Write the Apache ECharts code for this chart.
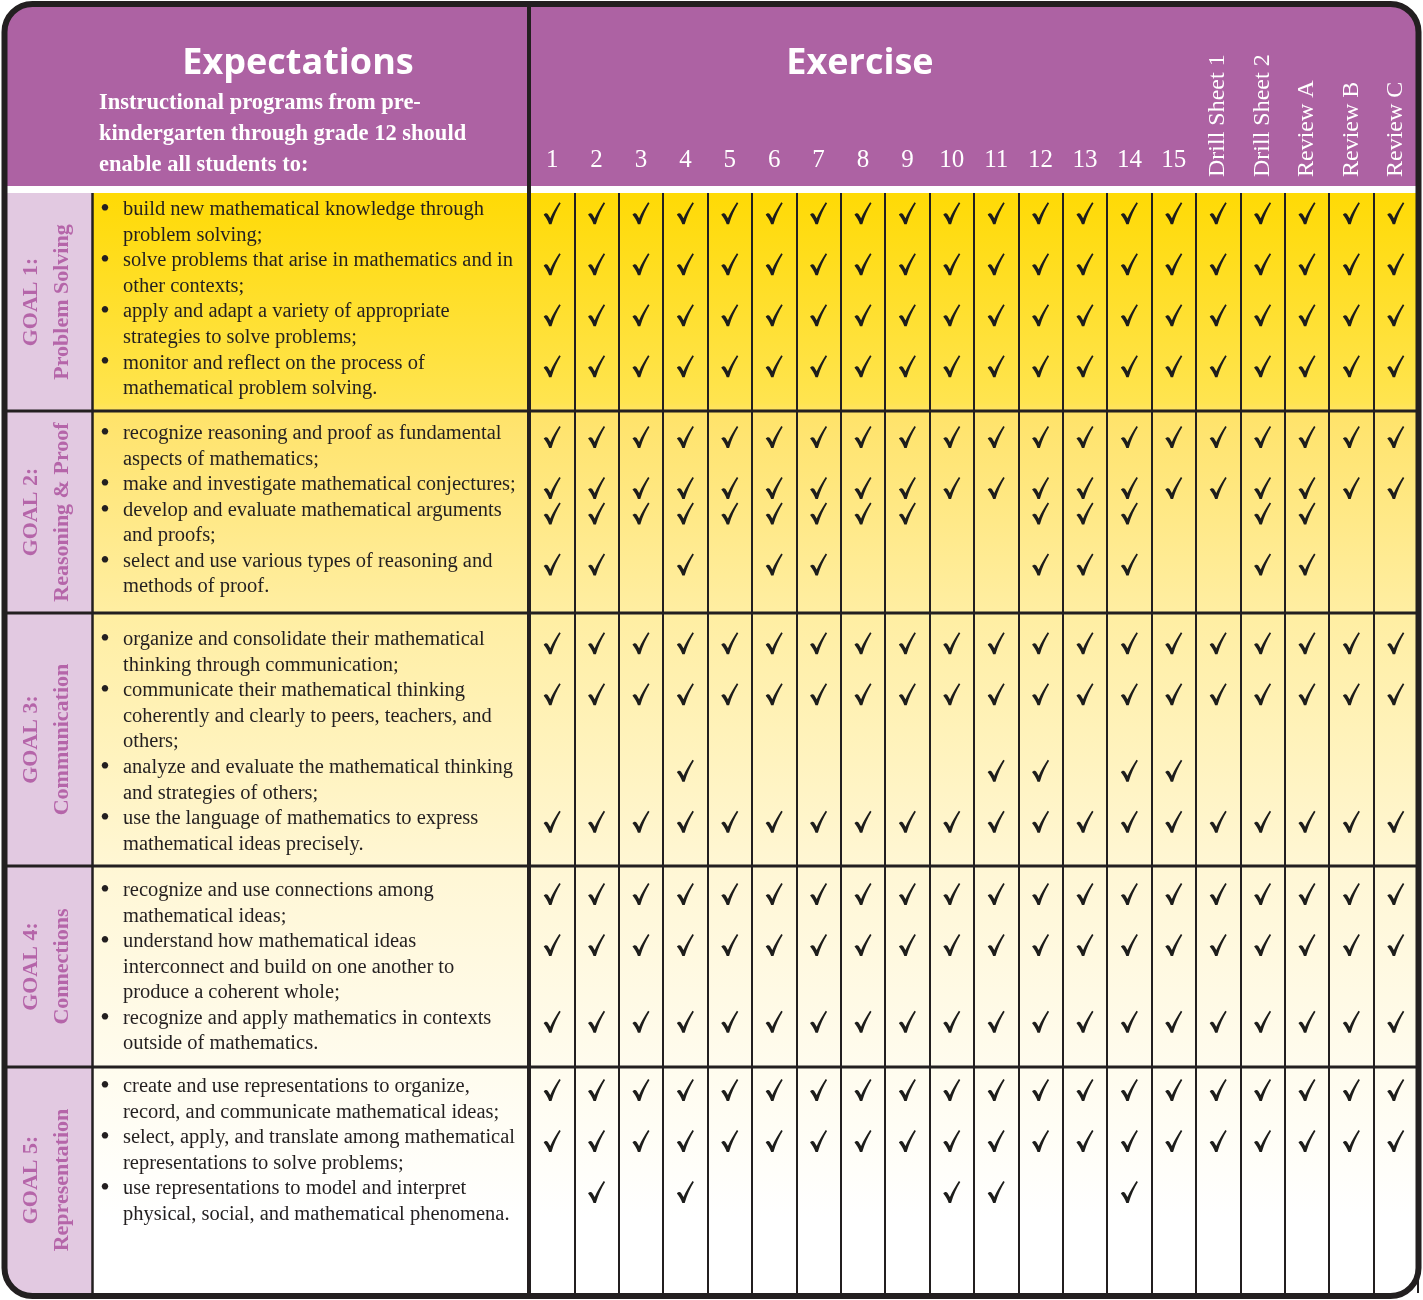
<!DOCTYPE html>
<html><head><meta charset="utf-8">
<script src="https://cdn.jsdelivr.net/npm/echarts@6/dist/echarts.min.js"></script>
<style>html,body{margin:0;padding:0;background:#fff}#c{width:1423px;height:1300px}</style>
</head><body><div id="c"></div>
<script>
// ---------------- DATA ----------------
const exerciseColumns = ['1','2','3','4','5','6','7','8','9','10','11','12','13','14','15',
  'Drill Sheet 1','Drill Sheet 2','Review A','Review B','Review C'];

const headerLeftTitle = 'Expectations';
const headerLeftSubtitle = ['Instructional programs from pre-', 'kindergarten through grade 12 should', 'enable all students to:'];
const headerRightTitle = 'Exercise';

const goalTitles = ['GOAL 1:\nProblem Solving', 'GOAL 2:\nReasoning & Proof', 'GOAL 3:\nCommunication',
  'GOAL 4:\nConnections', 'GOAL 5:\nRepresentation'];

const goal1Bullets = [
  ['build new mathematical knowledge through', 'problem solving;'],
  ['solve problems that arise in mathematics and in', 'other contexts;'],
  ['apply and adapt a variety of appropriate', 'strategies to solve problems;'],
  ['monitor and reflect on the process of', 'mathematical problem solving.']
];
const goal2Bullets = [
  ['recognize reasoning and proof as fundamental', 'aspects of mathematics;'],
  ['make and investigate mathematical conjectures;'],
  ['develop and evaluate mathematical arguments', 'and proofs;'],
  ['select and use various types of reasoning and', 'methods of proof.']
];
const goal3Bullets = [
  ['organize and consolidate their mathematical', 'thinking through communication;'],
  ['communicate their mathematical thinking', 'coherently and clearly to peers, teachers, and', 'others;'],
  ['analyze and evaluate the mathematical thinking', 'and strategies of others;'],
  ['use the language of mathematics to express', 'mathematical ideas precisely.']
];
const goal4Bullets = [
  ['recognize and use connections among', 'mathematical ideas;'],
  ['understand how mathematical ideas', 'interconnect and build on one another to', 'produce a coherent whole;'],
  ['recognize and apply mathematics in contexts', 'outside of mathematics.']
];
const goal5Bullets = [
  ['create and use representations to organize,', 'record, and communicate mathematical ideas;'],
  ['select, apply, and translate among mathematical', 'representations to solve problems;'],
  ['use representations to model and interpret', 'physical, social, and mathematical phenomena.']
];

// one string per bullet, one character per exercise column (1 = checked)
const goal1Checks = ['11111111111111111111', '11111111111111111111', '11111111111111111111', '11111111111111111111'];
const goal2Checks = ['11111111111111111111', '11111111111111111111', '11111111100111001100', '11010110000111001100'];
const goal3Checks = ['11111111111111111111', '11111111111111111111', '00010000001101100000', '11111111111111111111'];
const goal4Checks = ['11111111111111111111', '11111111111111111111', '11111111111111111111'];
const goal5Checks = ['11111111111111111111', '11111111111111111111', '01010000011001000000'];

// ---------------- LAYOUT ----------------
const L = {
  bandHeights: [8.55, 7.92, 9.92, 7.88, 8.86],   // in text-line units
  firstLinePad: [0.67, 0.90, 1.06, 0.98, 0.78],
  checkOffset: 0.12,
  gridLeft: 530, gridRight: 5, gridTop: 193, gridBottom: 7,
  purple: '#AD62A3', lavender: '#E2C9E1', goalText: '#B565A9', ink: '#231F20'
};
const SERIF = '"Liberation Serif", "Times New Roman", serif';
const SANS = '"Open Sans", "Noto Sans", sans-serif';

const goalBullets = [goal1Bullets, goal2Bullets, goal3Bullets, goal4Bullets, goal5Bullets];
const goalChecks = [goal1Checks, goal2Checks, goal3Checks, goal4Checks, goal5Checks];

const bandStart = [];
let acc = 0;
L.bandHeights.forEach(h => { bandStart.push(acc); acc += h; });
const TOTAL = acc;

// bullet start line positions (in line units)
const bulletPos = goalBullets.map((bl, g) => {
  let line = 0;
  return bl.map(b => { const p = bandStart[g] + L.firstLinePad[g] + line; line += b.length; return p; });
});

const checkData = [];
goalChecks.forEach((rows, g) => rows.forEach((row, r) => {
  for (let c = 0; c < row.length; c++) if (row[c] === '1') checkData.push([c, bulletPos[g][r] + L.checkOffset]);
}));

const CHECK_PATH = 'path://M0,12.5 C1,11 3,10.4 4.2,12 L6.6,16 C9,10.5 12.5,4.5 15.6,0 L17,1 C13.5,6.5 10.2,13.5 7.8,22 L5.4,22 C4.2,18 2,15 0,12.5 Z';

const chart = echarts.init(document.getElementById('c'), null, {renderer: 'canvas'});
chart.setOption({
  animation: false,
  backgroundColor: '#ffffff',
  grid: {left: L.gridLeft, right: L.gridRight, top: L.gridTop, bottom: L.gridBottom, containLabel: false},
  xAxis: [
    {type: 'category', data: exerciseColumns, position: 'top', boundaryGap: true,
     axisLine: {show: false}, axisTick: {show: false},
     splitLine: {show: true, interval: 0, lineStyle: {color: L.ink, width: 2}},
     axisLabel: {interval: 0, margin: 20, color: '#fff', fontFamily: SERIF, fontSize: 25,
       formatter: v => /^\d+$/.test(v) ? v : ''}},
    {type: 'category', data: exerciseColumns, position: 'top', boundaryGap: true,
     axisLine: {show: false}, axisTick: {show: false}, splitLine: {show: false},
     axisLabel: {interval: 0, rotate: -90, margin: 16, color: '#fff', fontFamily: SERIF, fontSize: 24,
       formatter: v => /^\d+$/.test(v) ? '' : v}}
  ],
  yAxis: {type: 'value', inverse: true, min: 0, max: TOTAL, show: false, splitLine: {show: false}},
  series: [{
    type: 'scatter', xAxisIndex: 0, yAxisIndex: 0, silent: true,
    symbol: CHECK_PATH, symbolSize: [17, 22],
    itemStyle: {color: '#1D1D1B', opacity: 1},
    data: checkData, z: 5
  }]
});

// ---------------- DECORATION (positions via the axis scale) ----------------
const py = v => chart.convertToPixel({yAxisIndex: 0}, v);
const bodyTop = py(0), bodyBottom = py(TOTAL);
const lineH = py(1) - py(0);
const els = [];

els.push({type: 'rect', z: -5, shape: {x: 4, y: 4, width: 1415, height: bodyTop - 4 + 2, r: [28, 28, 0, 0]}, style: {fill: L.purple}});
els.push({type: 'rect', z: -5, shape: {x: 4, y: bodyTop, width: 1415, height: bodyBottom - bodyTop + 3, r: [0, 0, 28, 28]},
  style: {fill: new echarts.graphic.LinearGradient(0, 0, 0, 1, [
    {offset: 0, color: '#FFDA05'}, {offset: 0.19, color: '#FFE450'}, {offset: 0.2, color: '#FFE36A'},
    {offset: 0.38, color: '#FFEEA2'}, {offset: 0.62, color: '#FFF7D6'}, {offset: 0.8, color: '#FFFCEF'},
    {offset: 0.93, color: '#FFFFFF'}, {offset: 1, color: '#FFFFFF'}])}});
els.push({type: 'rect', z: -4, shape: {x: 4, y: bodyTop, width: 89, height: bodyBottom - bodyTop + 3, r: [0, 0, 0, 28]}, style: {fill: L.lavender}});
els.push({type: 'rect', z: 3, shape: {x: 6, y: bodyTop - 7, width: 1411, height: 7}, style: {fill: '#ffffff'}});

// goal separators
for (let g = 1; g < bandStart.length; g++) {
  const y = py(bandStart[g]);
  els.push({type: 'line', z: 8, shape: {x1: 6, y1: y, x2: 1417, y2: y}, style: {stroke: L.ink, lineWidth: 3}});
}
els.push({type: 'line', z: 8, shape: {x1: 92.5, y1: bodyTop, x2: 92.5, y2: bodyBottom}, style: {stroke: L.ink, lineWidth: 2.5}});
els.push({type: 'line', z: 8, shape: {x1: 529, y1: 4, x2: 529, y2: 1296}, style: {stroke: L.ink, lineWidth: 4}});
els.push({type: 'rect', z: 10, shape: {x: 4.5, y: 4, width: 1414, height: 1292, r: 28}, style: {fill: null, stroke: L.ink, lineWidth: 6}});

// header texts
els.push({type: 'text', z: 9, x: 298, y: 64, style: {text: headerLeftTitle, font: 'bold 36px ' + SANS, fill: '#fff', align: 'center', verticalAlign: 'middle'}});
els.push({type: 'text', z: 9, x: 860, y: 64, style: {text: headerRightTitle, font: 'bold 36px ' + SANS, fill: '#fff', align: 'center', verticalAlign: 'middle'}});
els.push({type: 'text', z: 9, x: 99, y: 87.5, style: {text: headerLeftSubtitle.join('\n'), font: 'bold 22.5px ' + SERIF, lineHeight: 31, fill: '#fff', align: 'left', verticalAlign: 'top'}});

// goal labels and bullet texts
goalBullets.forEach((bl, g) => {
  const cy = py(bandStart[g] + L.bandHeights[g] / 2);
  els.push({type: 'text', z: 9, x: 47, y: cy, rotation: Math.PI / 2,
    style: {text: goalTitles[g], font: 'bold 22px ' + SERIF, lineHeight: 31, fill: L.goalText, align: 'center', verticalAlign: 'middle'}});
  bl.forEach((b, i) => {
    const yc = py(bulletPos[g][i]);
    els.push({type: 'text', z: 9, x: 105, y: yc, style: {text: '•', font: '27px ' + SERIF, fill: L.ink, align: 'center', verticalAlign: 'middle'}});
    els.push({type: 'text', z: 9, x: 123, y: yc - lineH / 2,
      style: {text: b.join('\n'), font: '20.5px ' + SERIF, lineHeight: lineH, fill: L.ink, align: 'left', verticalAlign: 'top'}});
  });
});

chart.setOption({graphic: {elements: els}});
</script>
</body></html>
